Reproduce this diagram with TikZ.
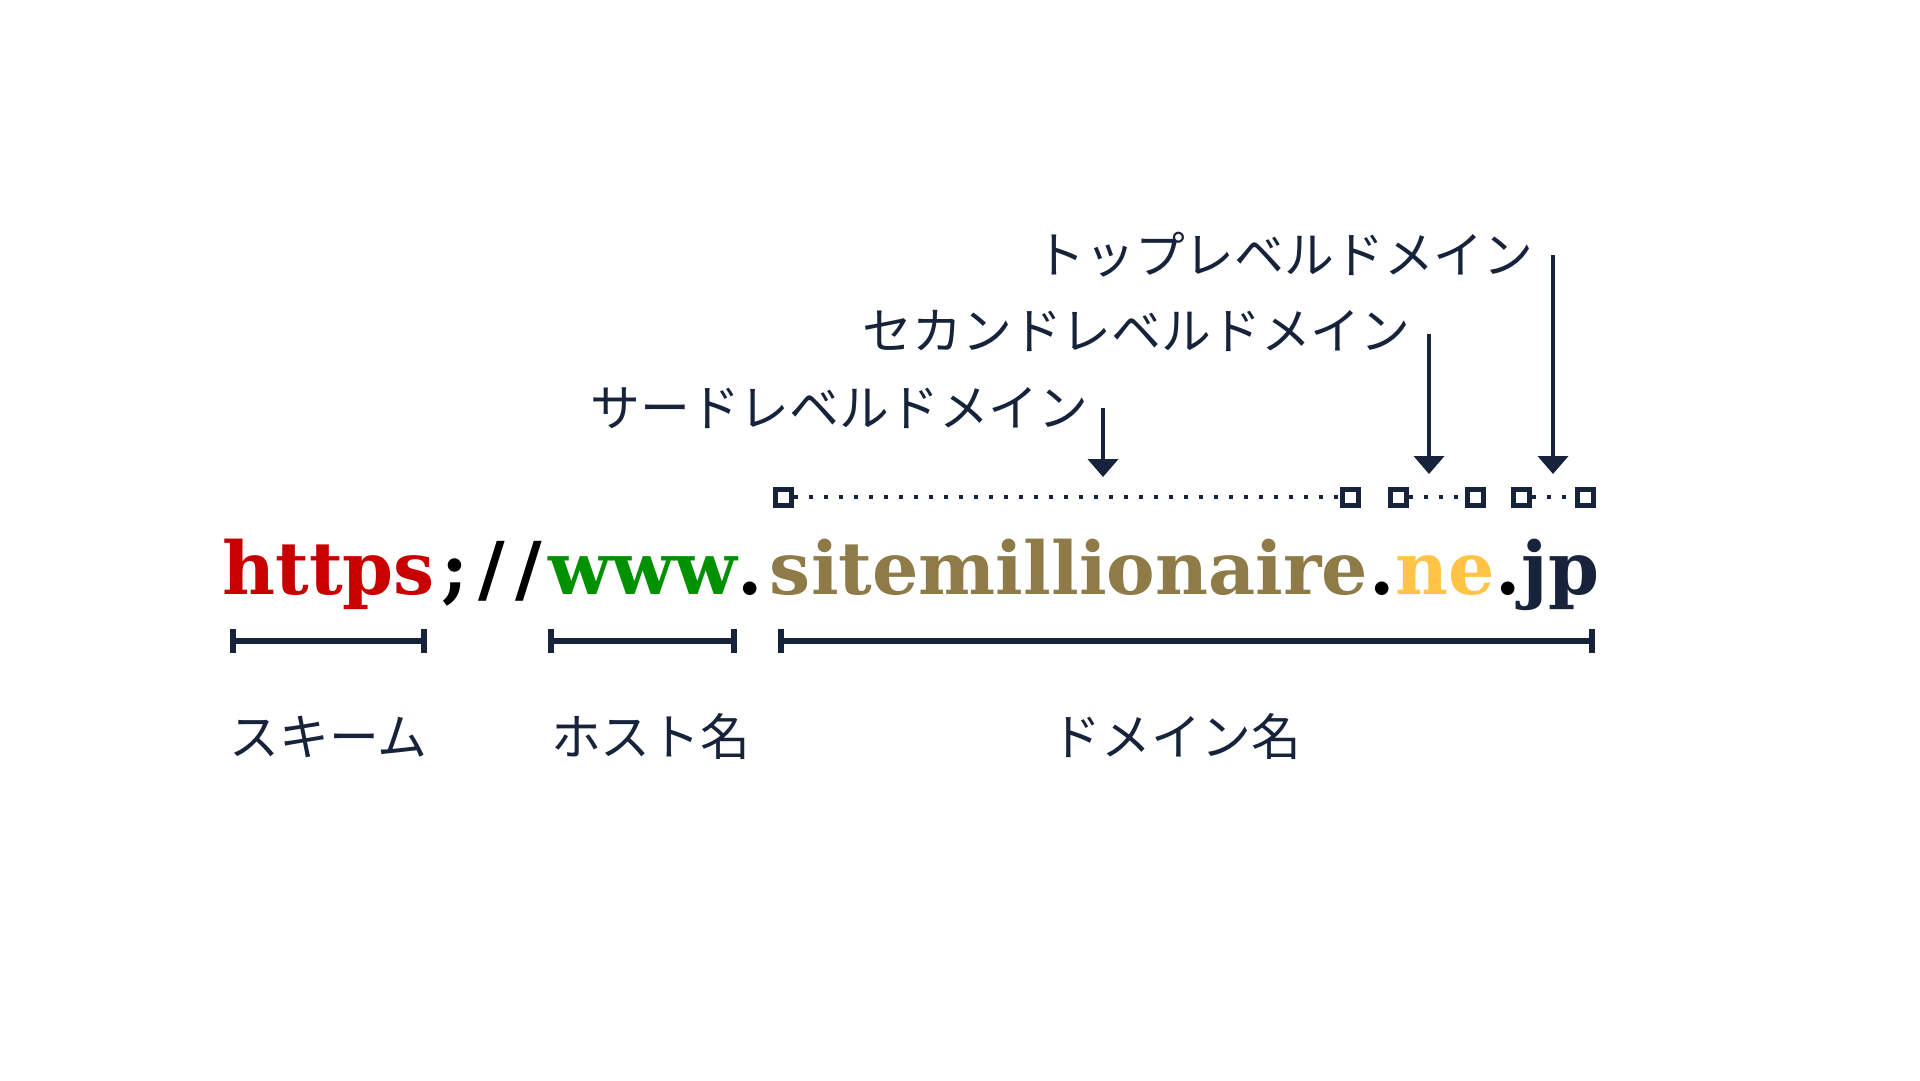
\documentclass[tikz,border=0pt]{standalone}
\usepackage{fontspec}
\setmainfont{DejaVu Serif}
\newfontfamily\jpfont{Noto Sans CJK JP}
\usetikzlibrary{arrows.meta,positioning}

\definecolor{navy}{RGB}{22,35,59}
\definecolor{schemered}{RGB}{200,0,0}
\definecolor{hostgreen}{RGB}{0,145,0}
\definecolor{thirdbrown}{RGB}{143,123,72}
\definecolor{secondyellow}{RGB}{255,196,69}

\tikzset{
  urlpart/.style={inner sep=0pt, anchor=base west, font=\bfseries\fontsize{36.6}{40}\selectfont},
  bracket/.style={navy, line width=3bp, {Bar[width=12bp]}-{Bar[width=12bp]}},
  lbl/.style={navy, inner sep=0pt, anchor=base, font=\jpfont\fontsize{25}{30}\selectfont},
  lvl/.style={lbl, anchor=base east},
  pointer/.style={navy, line width=2bp, -{Triangle[width=15bp, length=9bp]}},
  dotrow/.style={navy, line width=2bp, dash pattern=on 2bp off 5.5bp},
  endsq/.style={rectangle, draw=navy, line width=2.5bp, fill=white, minimum size=8bp, inner sep=0pt},
}

\begin{document}
\begin{tikzpicture}[x=0.5bp, y=-0.5bp]
\useasboundingbox[fill=white] (0,0) rectangle (1920,1080);

% the address
\node[urlpart, schemered] (scheme) at (222,594) {https};
\node[urlpart] (slashes) at (scheme.base east) {\kern3bp;\kern5bp/\kern5bp/\kern3bp};
\node[urlpart, hostgreen] (host) at (slashes.base east) {www};
\node[urlpart] (dota) at (host.base east) {.\kern3bp};
\node[urlpart, thirdbrown] (third) at (dota.base east) {sitemillionaire};
\node[urlpart] (dotb) at (third.base east) {.};
\node[urlpart, secondyellow] (second) at (dotb.base east) {ne};
\node[urlpart] (dotc) at (second.base east) {.};
\node[urlpart, navy] (top) at (dotc.base east) {jp};

% brackets and their names
\coordinate (brk) at (0,641);
\draw[bracket] ([xshift=4bp]scheme.west |- brk) -- ([xshift=-4bp]scheme.east |- brk)
  node[lbl, midway, yshift=-57bp] (lscheme) {スキーム};
\draw[bracket] (host.west |- brk) -- (host.east |- brk)
  node[lbl, midway, xshift=4bp, yshift=-57bp] (lhost) {ホスト名};
\draw[bracket] ([xshift=4bp]third.west |- brk) -- ([xshift=-2bp]top.east |- brk)
  node[lbl, midway, xshift=-5bp, yshift=-57bp] (ldomain) {ドメイン名};

% levels of the domain
\coordinate (row) at (0,497);
\node[endsq] (ta) at ([xshift=7bp]third.west |- row) {};
\node[endsq] (tb) at ([xshift=-9bp]third.east |- row) {};
\node[endsq] (sa) at ([xshift=2bp]second.west |- row) {};
\node[endsq] (sb) at ([xshift=-10bp]second.east |- row) {};
\node[endsq] (pa) at (top.west |- row) {};
\node[endsq] (pb) at ([xshift=-7bp]top.east |- row) {};
\draw[dotrow] (ta) -- (tb);
\draw[dotrow] (sa) -- (sb);
\draw[dotrow] (pa) -- (pb);

\node[lvl] (lthird) at (1089,426) {サードレベルドメイン};
\node[lvl] (lsecond) at (1411,349) {セカンドレベルドメイン};
\node[lvl] (ltop) at (1534,273) {トップレベルドメイン};

\coordinate (athird) at (1103,408);
\coordinate (asecond) at (1429,334);
\coordinate (atop) at (1553,255);
\draw[pointer] (athird) -- (athird |- 0,477);
\draw[pointer] (asecond) -- (asecond |- 0,474);
\draw[pointer] (atop) -- (atop |- 0,474);

\end{tikzpicture}
\end{document}
